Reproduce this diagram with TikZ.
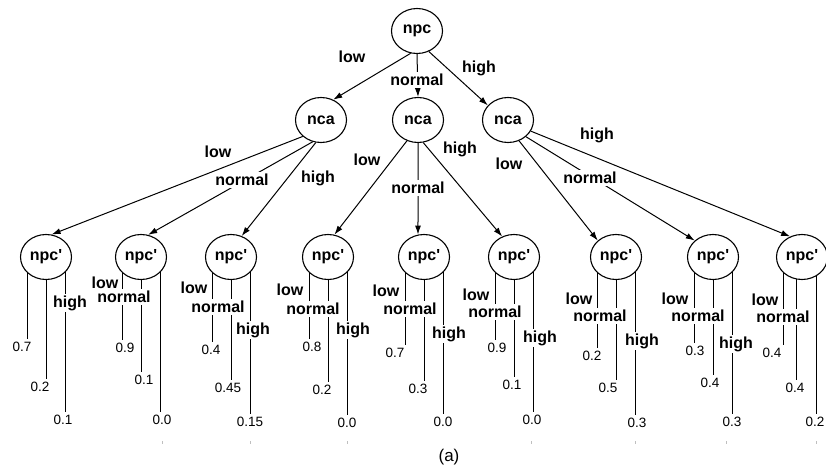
\documentclass[tikz,border=0pt]{standalone}
\usepackage{fontspec}
\setmainfont{Liberation Sans}
\usetikzlibrary{shapes.geometric,arrows.meta,backgrounds}

\begin{document}
\begin{tikzpicture}[
        x=1pt, y=-1pt,
        var/.style={ellipse, draw, line width=1.1pt, fill=white, minimum width=51pt, minimum height=45pt, inner sep=0pt, font=\bfseries\fontsize{16}{18}\selectfont},
        lbl/.style={fill=white, inner sep=2pt, font=\bfseries\fontsize{16}{18}\selectfont},
        prob/.style={inner sep=3.5pt, font=\fontsize{13.5}{15}\selectfont},
        arc/.style={-{Latex[length=9pt,width=6pt]}, line width=1pt},
        leaf/.style={line width=0.8pt}
    ]
        \useasboundingbox (0,0) rectangle (826,465);

        % root and the three nca nodes
        \node[var] (npc)  at (417,31)  {npc};
        \node[var] (nca1) at (321,120) {nca};
        \node[var] (nca2) at (418,120) {nca};
        \node[var] (nca3) at (508,120) {nca};

        % npc' nodes
        \node[var] (c1) at (46,257)  {npc\textquotesingle};
        \node[var] (c2) at (141,257) {npc\textquotesingle};
        \node[var] (c3) at (231,257) {npc\textquotesingle};
        \node[var] (c4) at (328,257) {npc\textquotesingle};
        \node[var] (c5) at (424,257) {npc\textquotesingle};
        \node[var] (c6) at (514,257) {npc\textquotesingle};
        \node[var] (c7) at (616,257) {npc\textquotesingle};
        \node[var] (c8) at (713,257) {npc\textquotesingle};
        \node[var] (c9) at (802,257) {npc\textquotesingle};

        \draw[arc] (npc.254) -- (nca1.59);
        \draw[arc] (npc.270) -- (nca2.90);
        \draw[arc] (npc.300) -- (nca3.144);

        \draw[arc] (nca1.222) -- (c1.76);
        \draw[arc] (nca1.249) -- (c2.72);
        \draw[arc] (nca1.257) -- (c3.63);
        \draw[arc] (nca2.242) -- (c4.74);
        \draw[arc] (nca2.270) -- (c5.105);
        \draw[arc] (nca2.283) -- (c6.120);
        \draw[arc] (nca3.298) -- (c7.138);
        \draw[arc] (nca3.317) -- (c8.138);
        \draw[arc] (nca3.334) -- (c9.120);

        % arc labels
        \node[lbl] (r-low)  at (352,57) {low};
        \node[lbl] (r-nor)  at (417,80) {normal};
        \node[lbl] (r-high) at (479,68) {high};
        \node[lbl] (a-low)  at (218,152) {low};
        \node[lbl] (a-nor)  at (242,180) {normal};
        \node[lbl] (a-high) at (318,178) {high};
        \node[lbl] (b-low)  at (367,160) {low};
        \node[lbl] (b-nor)  at (418,188) {normal};
        \node[lbl] (b-high) at (460,149) {high};
        \node[lbl] (d-low)  at (509,164) {low};
        \node[lbl] (d-nor)  at (590,178) {normal};
        \node[lbl] (d-high) at (597,135) {high};

        % probabilities
        \node[prob] (v11) at (22,347)  {0.7};
        \node[prob] (v12) at (40,387)  {0.2};
        \node[prob] (v13) at (63,420)  {0.1};
        \node[prob] (v21) at (125,348) {0.9};
        \node[prob] (v22) at (144,380) {0.1};
        \node[prob] (v23) at (162,420) {0.0};
        \node[prob] (v31) at (211,350) {0.4};
        \node[prob] (v32) at (228,388) {0.45};
        \node[prob] (v33) at (250,422) {0.15};
        \node[prob] (v41) at (312,347) {0.8};
        \node[prob] (v42) at (322,390) {0.2};
        \node[prob] (v43) at (347,423) {0.0};
        \node[prob] (v51) at (395,353) {0.7};
        \node[prob] (v52) at (418,389) {0.3};
        \node[prob] (v53) at (443,422) {0.0};
        \node[prob] (v61) at (497,348) {0.9};
        \node[prob] (v62) at (512,385) {0.1};
        \node[prob] (v63) at (532,420) {0.0};
        \node[prob] (v71) at (592,356) {0.2};
        \node[prob] (v72) at (608,388) {0.5};
        \node[prob] (v73) at (637,423) {0.3};
        \node[prob] (v81) at (695,351) {0.3};
        \node[prob] (v82) at (710,383) {0.4};
        \node[prob] (v83) at (732,422) {0.3};
        \node[prob] (v91) at (772,353) {0.4};
        \node[prob] (v92) at (795,388) {0.4};
        \node[prob] (v93) at (815,422) {0.2};

        % leaf lines, behind the ellipses and labels
        \begin{pgfonlayer}{background}
        \draw[leaf] ([xshift=-19]c1.center) -- ([xshift=-19]c1.center |- v11.north);
        \draw[leaf] (c1.center) -- (c1.center |- v12.north);
        \draw[leaf] ([xshift=19]c1.center) -- ([xshift=19]c1.center |- v13.north);
        \draw[leaf] ([xshift=-19]c2.center) -- ([xshift=-19]c2.center |- v21.north);
        \draw[leaf] (c2.center) -- (c2.center |- v22.north);
        \draw[leaf] ([xshift=19]c2.center) -- ([xshift=19]c2.center |- v23.north);
        \draw[leaf] ([xshift=-19]c3.center) -- ([xshift=-19]c3.center |- v31.north);
        \draw[leaf] (c3.center) -- (c3.center |- v32.north);
        \draw[leaf] ([xshift=19]c3.center) -- ([xshift=19]c3.center |- v33.north);
        \draw[leaf] ([xshift=-19]c4.center) -- ([xshift=-19]c4.center |- v41.north);
        \draw[leaf] (c4.center) -- (c4.center |- v42.north);
        \draw[leaf] ([xshift=19]c4.center) -- ([xshift=19]c4.center |- v43.north);
        \draw[leaf] ([xshift=-19]c5.center) -- ([xshift=-19]c5.center |- v51.north);
        \draw[leaf] (c5.center) -- (c5.center |- v52.north);
        \draw[leaf] ([xshift=19]c5.center) -- ([xshift=19]c5.center |- v53.north);
        \draw[leaf] ([xshift=-19]c6.center) -- ([xshift=-19]c6.center |- v61.north);
        \draw[leaf] (c6.center) -- (c6.center |- v62.north);
        \draw[leaf] ([xshift=19]c6.center) -- ([xshift=19]c6.center |- v63.north);
        \draw[leaf] ([xshift=-19]c7.center) -- ([xshift=-19]c7.center |- v71.north);
        \draw[leaf] (c7.center) -- (c7.center |- v72.north);
        \draw[leaf] ([xshift=19]c7.center) -- ([xshift=19]c7.center |- v73.north);
        \draw[leaf] ([xshift=-19]c8.center) -- ([xshift=-19]c8.center |- v81.north);
        \draw[leaf] (c8.center) -- (c8.center |- v82.north);
        \draw[leaf] ([xshift=19]c8.center) -- ([xshift=19]c8.center |- v83.north);
        \draw[leaf] ([xshift=-19]c9.center) -- ([xshift=-19]c9.center |- v91.north);
        \draw[leaf] ([xshift=-6]c9.center) -- ([xshift=-6]c9.center |- v92.north);
        \draw[leaf] ([xshift=14]c9.center) -- ([xshift=14]c9.center |- v93.north);
        \end{pgfonlayer}

        % state labels on the leaf lines
        \node[lbl] (h1)  at (70,303)  {high};
        \node[lbl] (l2)  at (105,283) {low};
        \node[lbl] (n2)  at (124,297) {normal};
        \node[lbl] (l3)  at (194,288) {low};
        \node[lbl] (n3)  at (218,307) {normal};
        \node[lbl] (h3)  at (253,330) {high};
        \node[lbl] (l4)  at (290,290) {low};
        \node[lbl] (n4)  at (313,309) {normal};
        \node[lbl] (h4)  at (353,330) {high};
        \node[lbl] (l5)  at (386,291) {low};
        \node[lbl] (n5)  at (410,309) {normal};
        \node[lbl] (h5)  at (449,334) {high};
        \node[lbl] (l6)  at (476,295) {low};
        \node[lbl] (n6)  at (495,312) {normal};
        \node[lbl] (h6)  at (540,338) {high};
        \node[lbl] (l7)  at (579,299) {low};
        \node[lbl] (n7)  at (600,316) {normal};
        \node[lbl] (h7)  at (642,341) {high};
        \node[lbl] (l8)  at (675,299) {low};
        \node[lbl] (n8)  at (698,316) {normal};
        \node[lbl] (h8)  at (736,344) {high};
        \node[lbl] (l9)  at (765,300) {low};
        \node[lbl] (n9)  at (783,317) {normal};

        \foreach \x in {162,250,347,531,635,726,816}
            \draw[gray!50, line width=0.8pt] (\x,441) -- (\x,444);

        \node[font=\fontsize{17}{19}\selectfont] (cap) at (449,457) {(a)};

    \end{tikzpicture}
\end{document}
